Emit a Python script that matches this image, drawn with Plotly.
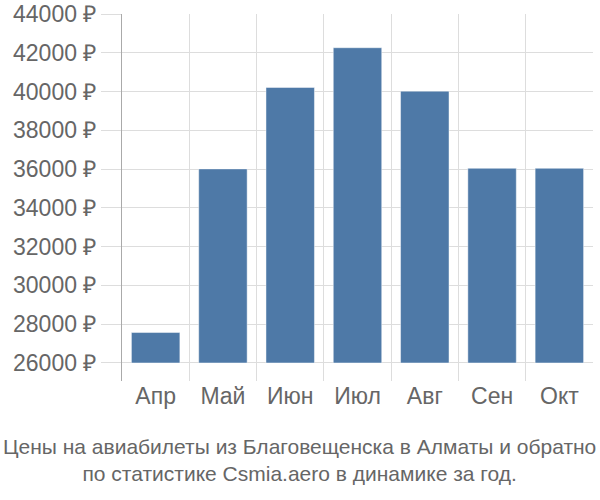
import plotly.graph_objects as go

months = ["Апр", "Май", "Июн", "Июл", "Авг", "Сен", "Окт"]
prices = [27570, 36010, 40210, 42260, 40020, 36040, 36040]
y_ticks = [26000, 28000, 30000, 32000, 34000, 36000, 38000, 40000, 42000, 44000]
title_text = "Цены на авиабилеты из Благовещенска в Алматы и обратно<br>по статистике Csmia.aero в динамике за год."

font_family = "Liberation Sans, Arial, sans-serif"
text_color = "#666666"
grid_color = "#dddddd"

fig = go.Figure(
    go.Bar(
        x=months,
        y=[p - 26000 for p in prices],
        base=26000,
        marker=dict(color="rgb(78,121,167)", line=dict(color="rgba(255,255,255,0.45)", width=1)),
        hoverinfo="skip",
    )
)

fig.update_layout(
    width=600,
    height=500,
    margin=dict(l=122, r=7, t=14, b=119),
    paper_bgcolor="white",
    plot_bgcolor="white",
    bargap=0.28,
    showlegend=False,
    font=dict(family=font_family, color=text_color),
    annotations=[
        dict(
            text=title_text,
            xref="paper", yref="paper",
            x=0.5, y=-0.15,
            xanchor="center", yanchor="top",
            showarrow=False,
            font=dict(size=21, color=text_color, family=font_family),
            xshift=-122 / 2 + 7 / 2 - 1,
            yshift=3,
        )
    ],
)

fig.update_xaxes(
    type="category",
    tickson="boundaries",
    showgrid=True,
    gridcolor=grid_color,
    gridwidth=1,
    ticks="",
    showline=False,
    automargin=False,
    tickfont=dict(size=23, color=text_color),
    ticklabelstandoff=-1,
)

fig.update_yaxes(
    range=[25070, 44000],
    tickmode="array",
    tickvals=y_ticks,
    ticktext=[f"{v} ₽" for v in y_ticks],
    showgrid=True,
    gridcolor=grid_color,
    gridwidth=1,
    ticks="outside",
    ticklen=20,
    tickcolor=grid_color,
    zeroline=False,
    showline=True,
    linecolor="#aaaaaa",
    linewidth=1,
    automargin=False,
    tickfont=dict(size=23, color=text_color),
)

fig.write_html("out.html")
